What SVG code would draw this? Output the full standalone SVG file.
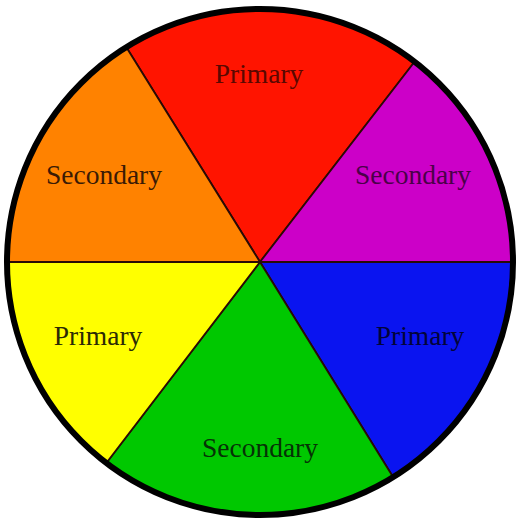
<svg xmlns="http://www.w3.org/2000/svg" width="517" height="524" viewBox="0 0 517 524">
<style>
.sec{stroke:#2a0a05;stroke-width:1.8;stroke-linejoin:round}
.lbl{font-family:"Liberation Serif","DejaVu Serif",serif;font-size:27.5px;text-anchor:middle}
</style>
<rect width="517" height="524" fill="#ffffff"/>
<g id="red">
<path class="sec" d="M260,262 L126.8,48 A252,252 0 0 1 414,62.5 Z" fill="#ff1400"/>
<text class="lbl" x="259" y="83" fill="#5a0800">Primary</text>
</g>
<g id="purple">
<path class="sec" d="M260,262 L414,62.5 A252,252 0 0 1 512,262 Z" fill="#cc00c8"/>
<text class="lbl" x="413" y="184" fill="#4a0048">Secondary</text>
</g>
<g id="blue">
<path class="sec" d="M260,262 L512,262 A252,252 0 0 1 392.6,476.2 Z" fill="#0a14f0"/>
<text class="lbl" x="420" y="345" fill="#02043a">Primary</text>
</g>
<g id="green">
<path class="sec" d="M260,262 L392.6,476.2 A252,252 0 0 1 106.9,462.2 Z" fill="#00c800"/>
<text class="lbl" x="260" y="457" fill="#063206">Secondary</text>
</g>
<g id="yellow">
<path class="sec" d="M260,262 L106.9,462.2 A252,252 0 0 1 8,262 Z" fill="#ffff00"/>
<text class="lbl" x="98" y="345" fill="#2a2a05">Primary</text>
</g>
<g id="orange">
<path class="sec" d="M260,262 L8,262 A252,252 0 0 1 126.8,48 Z" fill="#ff8200"/>
<text class="lbl" x="104" y="184" fill="#3a1a05">Secondary</text>
</g>
<g id="connectors">
<circle cx="260" cy="262" r="253" fill="none" stroke="#000000" stroke-width="6"/>
</g>
</svg>
